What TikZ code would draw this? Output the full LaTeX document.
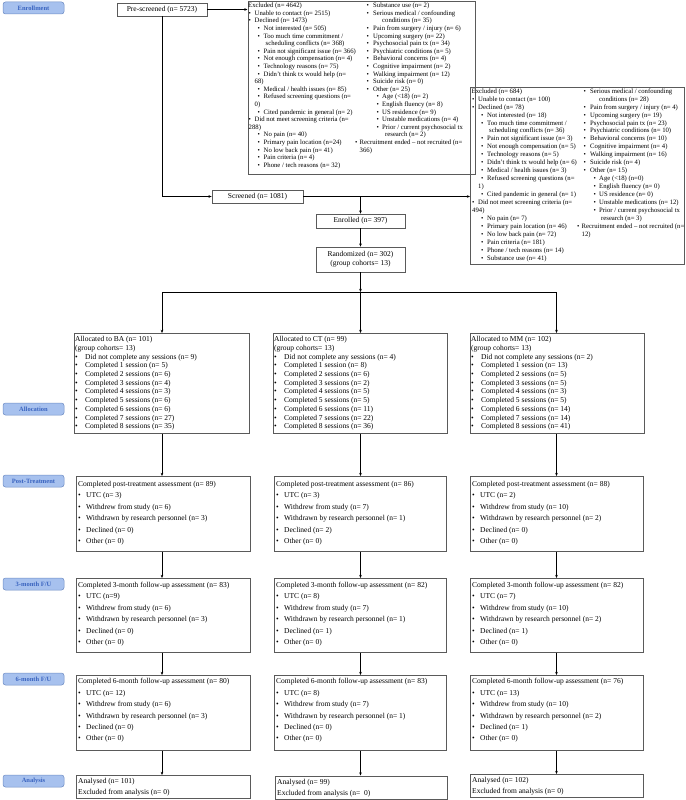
\documentclass[tikz,border=0pt]{standalone}
\usepackage{fontspec}
\setmainfont{Liberation Serif}
\usetikzlibrary{arrows.meta}
\definecolor{boxgray}{HTML}{5A5A5A}
\definecolor{labfill}{HTML}{A7C1EE}
\definecolor{labdraw}{HTML}{6E8CC4}
\definecolor{labtext}{HTML}{3A64C0}
\newcommand{\fst}{\rule{0pt}{6pt}}
\newcommand{\bl}[1]{\makebox[#1][l]{\textbullet}}
\newcommand{\sk}[1]{\hspace*{#1}}
\newcommand{\lvb}{\sk{9pt}\bl{6pt}}
\begin{document}
\begin{tikzpicture}[x=1pt,y=-1pt,
  box/.style={draw=boxgray, line width=0.6pt, inner sep=0pt, anchor=north west},
  cbox/.style={draw=boxgray, line width=0.6pt, inner sep=0pt, align=center, font=\fontsize{7.5}{8.7}\selectfont},
  col/.style={inner sep=0pt, anchor=north west, align=left},
  exf/.style={col, font=\fontsize{6.7}{7.6}\selectfont},
  exg/.style={col, font=\fontsize{6.7}{7.95}\selectfont},
  alf/.style={col, font=\fontsize{7.5}{8.7}\selectfont},
  lof/.style={col, font=\fontsize{7.5}{11.45}\selectfont},
  anf/.style={col, font=\fontsize{7.5}{11}\selectfont},
  lab/.style={draw=labdraw, fill=labfill, rounded corners=2.5pt, line width=0.5pt,
    minimum width=61pt, minimum height=12pt, inner sep=0pt, text=labtext,
    font=\fontsize{6.5}{7}\selectfont\bfseries},
  arr/.style={draw=black, line width=0.6pt, -{Stealth[length=3.2pt,width=2.6pt]}},
  ln/.style={draw=black, line width=0.6pt}]
\fill[white] (0,0) rectangle (685,800);
\useasboundingbox (0,0) rectangle (685,800);

% stage labels
\node[lab] (lEnr) at (33.5,8) {Enrollment};
\node[lab] (lAll) at (33.5,409) {Allocation};
\node[lab] (lPost) at (33.5,481) {Post-Treatment};
\node[lab] (lThree) at (33.5,584) {3-month F/U};
\node[lab] (lSix) at (33.5,679) {6-month F/U};
\node[lab] (lAna) at (33.5,781) {Analysis};

% enrollment boxes
\node[cbox, minimum width=90pt, minimum height=13pt] (pre) at (162,9.5) {Pre-screened (n= 5723)};
\node[cbox, minimum width=91pt, minimum height=13pt] (scr) at (257.5,196.5) {Screened (n= 1081)};
\node[cbox, minimum width=89pt, minimum height=14pt] (enr) at (360.5,221) {Enrolled (n= 397)};
\node[cbox, minimum width=89pt, minimum height=25pt] (rnd) at (360.5,259.5) {Randomized (n= 302)\\(group cohorts= 13)};

% excluded box 1
\node[box, minimum width=227.5pt, minimum height=173pt] (exA) at (247.5,1) {};
\node[exf] (exAl) at (248.5,1.5) {\fst\sk{-0.5pt}Excluded (n= 4642)\\
\bl{6pt}Unable to contact (n= 2515)\\
\bl{6pt}Declined (n= 1473)\\
\lvb Not interested (n= 505)\\
\lvb Too much time commitment /\\
\sk{17pt}scheduling conflicts (n= 368)\\
\lvb Pain not significant issue (n= 366)\\
\lvb Not enough compensation (n= 4)\\
\lvb Technology reasons (n= 75)\\
\lvb Didn’t think tx would help (n=\\
\sk{6pt}68)\\
\lvb Medical / health issues (n= 85)\\
\lvb Refused screening questions (n=\\
\sk{6pt}0)\\
\lvb Cited pandemic in general (n= 2)\\
\bl{6pt}Did not meet screening criteria (n=\\
288)\\
\lvb No pain (n= 40)\\
\lvb Primary pain location (n=24)\\
\lvb No low back pain (n= 41)\\
\lvb Pain criteria (n= 4)\\
\lvb Phone / tech reasons (n= 32)};
\node[exf] (exAr) at (355,1.5) {\fst\sk{11.5pt}\bl{6.5pt}Substance use (n= 2)\\
\sk{11.5pt}\bl{6.5pt}Serious medical / confounding\\
\sk{27pt}conditions (n= 35)\\
\sk{11.5pt}\bl{6.5pt}Pain from surgery / injury (n= 6)\\
\sk{11.5pt}\bl{6.5pt}Upcoming surgery (n= 22)\\
\sk{11.5pt}\bl{6.5pt}Psychosocial pain tx (n= 34)\\
\sk{11.5pt}\bl{6.5pt}Psychiatric conditions (n= 5)\\
\sk{11.5pt}\bl{6.5pt}Behavioral concerns (n= 4)\\
\sk{11.5pt}\bl{6.5pt}Cognitive impairment (n= 2)\\
\sk{11.5pt}\bl{6.5pt}Walking impairment (n= 12)\\
\sk{11.5pt}\bl{6.5pt}Suicide risk (n= 0)\\
\sk{11.5pt}\bl{6.5pt}Other (n= 25)\\
\sk{21.5pt}\bl{5.5pt}Age (<18) (n= 2)\\
\sk{21.5pt}\bl{5.5pt}English fluency (n= 8)\\
\sk{21.5pt}\bl{5.5pt}US residence (n= 9)\\
\sk{21.5pt}\bl{5.5pt}Unstable medications (n= 4)\\
\sk{21.5pt}\bl{5.5pt}Prior / current psychosocial tx\\
\sk{30pt}research (n= 2)\\
\bl{4.5pt}Recruitment ended – not recruited (n=\\
\sk{4.5pt}366)};

% excluded box 2
\node[box, minimum width=214pt, minimum height=177pt] (exB) at (470,87) {};
\node[exg] (exBl) at (472,87) {\fst\sk{-0.5pt}Excluded (n= 684)\\
\bl{6pt}Unable to contact (n= 100)\\
\bl{6pt}Declined (n= 78)\\
\lvb Not interested (n= 18)\\
\lvb Too much time commitment /\\
\sk{17pt}scheduling conflicts (n= 36)\\
\lvb Pain not significant issue (n= 3)\\
\lvb Not enough compensation (n= 5)\\
\lvb Technology reasons (n= 5)\\
\lvb Didn’t think tx would help (n= 6)\\
\lvb Medical / health issues (n= 3)\\
\lvb Refused screening questions (n=\\
\sk{6pt}1)\\
\lvb Cited pandemic in general (n= 1)\\
\bl{6pt}Did not meet screening criteria (n=\\
494)\\
\lvb No pain (n= 7)\\
\lvb Primary pain location (n= 46)\\
\lvb No low back pain (n= 72)\\
\lvb Pain criteria (n= 181)\\
\lvb Phone / tech reasons (n= 14)\\
\lvb Substance use (n= 41)};
\node[exg] (exBr) at (577,87) {\fst\sk{6.5pt}\bl{6.5pt}Serious medical / confounding\\
\sk{22pt}conditions (n= 28)\\
\sk{6.5pt}\bl{6.5pt}Pain from surgery / injury (n= 4)\\
\sk{6.5pt}\bl{6.5pt}Upcoming surgery (n= 19)\\
\sk{6.5pt}\bl{6.5pt}Psychosocial pain tx (n= 23)\\
\sk{6.5pt}\bl{6.5pt}Psychiatric conditions (n= 10)\\
\sk{6.5pt}\bl{6.5pt}Behavioral concerns (n= 10)\\
\sk{6.5pt}\bl{6.5pt}Cognitive impairment (n= 4)\\
\sk{6.5pt}\bl{6.5pt}Walking impairment (n= 16)\\
\sk{6.5pt}\bl{6.5pt}Suicide risk (n= 4)\\
\sk{6.5pt}\bl{6.5pt}Other (n= 15)\\
\sk{16.5pt}\bl{5.5pt}Age (<18) (n=0)\\
\sk{16.5pt}\bl{5.5pt}English fluency (n= 0)\\
\sk{16.5pt}\bl{5.5pt}US residence (n= 0)\\
\sk{16.5pt}\bl{5.5pt}Unstable medications (n= 12)\\
\sk{16.5pt}\bl{5.5pt}Prior / current psychosocial tx\\
\sk{24pt}research (n= 3)\\
\bl{4.5pt}Recruitment ended – not recruited (n=\\
\sk{4.5pt}12)};

% allocation boxes
\node[box, minimum width=175pt, minimum height=100pt] (alBA) at (74,333) {};
\node[box, minimum width=174pt, minimum height=100pt] (alCT) at (273,333) {};
\node[box, minimum width=174pt, minimum height=100pt] (alMM) at (470,333) {};
\node[alf] (alBAt) at (75,335.5) {\fst Allocated to BA (n= 101)\\(group cohorts= 13)\\
\bl{10pt}Did not complete any sessions (n= 9)\\
\bl{10pt}Completed 1 session (n= 5)\\
\bl{10pt}Completed 2 sessions (n= 6)\\
\bl{10pt}Completed 3 sessions (n= 4)\\
\bl{10pt}Completed 4 sessions (n= 3)\\
\bl{10pt}Completed 5 sessions (n= 6)\\
\bl{10pt}Completed 6 sessions (n= 6)\\
\bl{10pt}Completed 7 sessions (n= 27)\\
\bl{10pt}Completed 8 sessions (n= 35)};
\node[alf] (alCTt) at (274,335.5) {\fst Allocated to CT (n= 99)\\(group cohorts= 13)\\
\bl{10pt}Did not complete any sessions (n= 4)\\
\bl{10pt}Completed 1 session (n= 8)\\
\bl{10pt}Completed 2 sessions (n= 6)\\
\bl{10pt}Completed 3 sessions (n= 2)\\
\bl{10pt}Completed 4 sessions (n= 5)\\
\bl{10pt}Completed 5 sessions (n= 5)\\
\bl{10pt}Completed 6 sessions (n= 11)\\
\bl{10pt}Completed 7 sessions (n= 22)\\
\bl{10pt}Completed 8 sessions (n= 36)};
\node[alf] (alMMt) at (471,335.5) {\fst Allocated to MM (n= 102)\\(group cohorts= 13)\\
\bl{10pt}Did not complete any sessions (n= 2)\\
\bl{10pt}Completed 1 session (n= 13)\\
\bl{10pt}Completed 2 sessions (n= 5)\\
\bl{10pt}Completed 3 sessions (n= 5)\\
\bl{10pt}Completed 4 sessions (n= 3)\\
\bl{10pt}Completed 5 sessions (n= 5)\\
\bl{10pt}Completed 6 sessions (n= 14)\\
\bl{10pt}Completed 7 sessions (n= 14)\\
\bl{10pt}Completed 8 sessions (n= 41)};

% post-treatment
\node[box, minimum width=174pt, minimum height=75pt] (poBA) at (76,476) {};
\node[box, minimum width=172pt, minimum height=75pt] (poCT) at (274,476) {};
\node[box, minimum width=173pt, minimum height=75pt] (poMM) at (470,476) {};
\node[lof] (poBAt) at (78,480) {\fst Completed post-treatment assessment (n= 89)\\
\bl{8pt}UTC (n= 3)\\ \bl{8pt}Withdrew from study (n= 6)\\ \bl{8pt}Withdrawn by research personnel (n= 3)\\ \bl{8pt}Declined (n= 0)\\ \bl{8pt}Other (n= 0)};
\node[lof] (poCTt) at (276,480) {\fst Completed post-treatment assessment (n= 86)\\
\bl{8pt}UTC (n= 3)\\ \bl{8pt}Withdrew from study (n= 7)\\ \bl{8pt}Withdrawn by research personnel (n= 1)\\ \bl{8pt}Declined (n= 2)\\ \bl{8pt}Other (n= 0)};
\node[lof] (poMMt) at (472,480) {\fst Completed post-treatment assessment (n= 88)\\
\bl{8pt}UTC (n= 2)\\ \bl{8pt}Withdrew from study (n= 10)\\ \bl{8pt}Withdrawn by research personnel (n= 2)\\ \bl{8pt}Declined (n= 0)\\ \bl{8pt}Other (n= 0)};

% 3-month
\node[box, minimum width=174pt, minimum height=74pt] (thBA) at (76,578) {};
\node[box, minimum width=172pt, minimum height=74pt] (thCT) at (274,578) {};
\node[box, minimum width=173pt, minimum height=74pt] (thMM) at (470,578) {};
\node[lof] (thBAt) at (78,581) {\fst Completed 3-month follow-up assessment (n= 83)\\
\bl{8pt}UTC (n=9)\\ \bl{8pt}Withdrew from study (n= 6)\\ \bl{8pt}Withdrawn by research personnel (n= 3)\\ \bl{8pt}Declined (n= 0)\\ \bl{8pt}Other (n= 0)};
\node[lof] (thCTt) at (276,581) {\fst Completed 3-month follow-up assessment (n= 82)\\
\bl{8pt}UTC (n= 8)\\ \bl{8pt}Withdrew from study (n= 7)\\ \bl{8pt}Withdrawn by research personnel (n= 1)\\ \bl{8pt}Declined (n= 1)\\ \bl{8pt}Other (n= 0)};
\node[lof] (thMMt) at (472,581) {\fst Completed 3-month follow-up assessment (n= 82)\\
\bl{8pt}UTC (n= 7)\\ \bl{8pt}Withdrew from study (n= 10)\\ \bl{8pt}Withdrawn by research personnel (n= 2)\\ \bl{8pt}Declined (n= 1)\\ \bl{8pt}Other (n= 0)};

% 6-month
\node[box, minimum width=174pt, minimum height=75pt] (sxBA) at (76,675) {};
\node[box, minimum width=172pt, minimum height=75pt] (sxCT) at (274,675) {};
\node[box, minimum width=173pt, minimum height=75pt] (sxMM) at (470,675) {};
\node[lof] (sxBAt) at (78,677.5) {\fst Completed 6-month follow-up assessment (n= 80)\\
\bl{8pt}UTC (n= 12)\\ \bl{8pt}Withdrew from study (n= 6)\\ \bl{8pt}Withdrawn by research personnel (n= 3)\\ \bl{8pt}Declined (n= 0)\\ \bl{8pt}Other (n= 0)};
\node[lof] (sxCTt) at (276,677.5) {\fst Completed 6-month follow-up assessment (n= 83)\\
\bl{8pt}UTC (n= 8)\\ \bl{8pt}Withdrew from study (n= 7)\\ \bl{8pt}Withdrawn by research personnel (n= 1)\\ \bl{8pt}Declined (n= 0)\\ \bl{8pt}Other (n= 0)};
\node[lof] (sxMMt) at (472,677.5) {\fst Completed 6-month follow-up assessment (n= 76)\\
\bl{8pt}UTC (n= 13)\\ \bl{8pt}Withdrew from study (n= 10)\\ \bl{8pt}Withdrawn by research personnel (n= 2)\\ \bl{8pt}Declined (n= 1)\\ \bl{8pt}Other (n= 0)};

% analysis
\node[box, minimum width=174pt, minimum height=23pt] (anBA) at (76,775) {};
\node[box, minimum width=172pt, minimum height=23pt] (anCT) at (275,775.5) {};
\node[box, minimum width=173pt, minimum height=23pt] (anMM) at (470,774) {};
\node[anf] (anBAt) at (78,777.5) {\fst Analysed (n= 101)\\Excluded from analysis (n= 0)};
\node[anf] (anCTt) at (277,778) {\fst Analysed (n= 99)\\Excluded from analysis (n=\ \ 0)};
\node[anf] (anMMt) at (472,776.5) {\fst Analysed (n= 102)\\Excluded from analysis (n= 0)};

% coordinates
\coordinate (hj) at (360.5,292);
\coordinate (hl) at (162,292);
\coordinate (hr) at (556.5,292);

% enrollment connectors
\draw[arr] (pre.east) -- (pre.east -| exA.west);
\draw[arr] (pre.south) -- (pre.south |- scr.west) -- (scr.west);
\draw[arr] (scr.east) -- (scr.east -| exB.west);
\draw[arr] (scr.east -| enr.north) -- (enr.north);
\draw[arr] (enr.south) -- (rnd.north);
\draw[arr] (rnd.south) -- (hj);
\draw[ln] (hl) -- (hr);
\draw[arr] (hl) -- (hl |- alBA.north);
\draw[arr] (hj) -- (hj |- alCT.north);
\draw[arr] (hr) -- (hr |- alMM.north);

% follow-up connectors
\foreach \x/\a/\b/\c/\d/\e in {162/alBA/poBA/thBA/sxBA/anBA, 360.5/alCT/poCT/thCT/sxCT/anCT, 556.5/alMM/poMM/thMM/sxMM/anMM}{
  \draw[arr] (\x,0 |- \a.south) -- (\x,0 |- \b.north);
  \draw[arr] (\x,0 |- \b.south) -- (\x,0 |- \c.north);
  \draw[arr] (\x,0 |- \c.south) -- (\x,0 |- \d.north);
  \draw[arr] (\x,0 |- \d.south) -- (\x,0 |- \e.north);
}
\end{tikzpicture}
\end{document}
